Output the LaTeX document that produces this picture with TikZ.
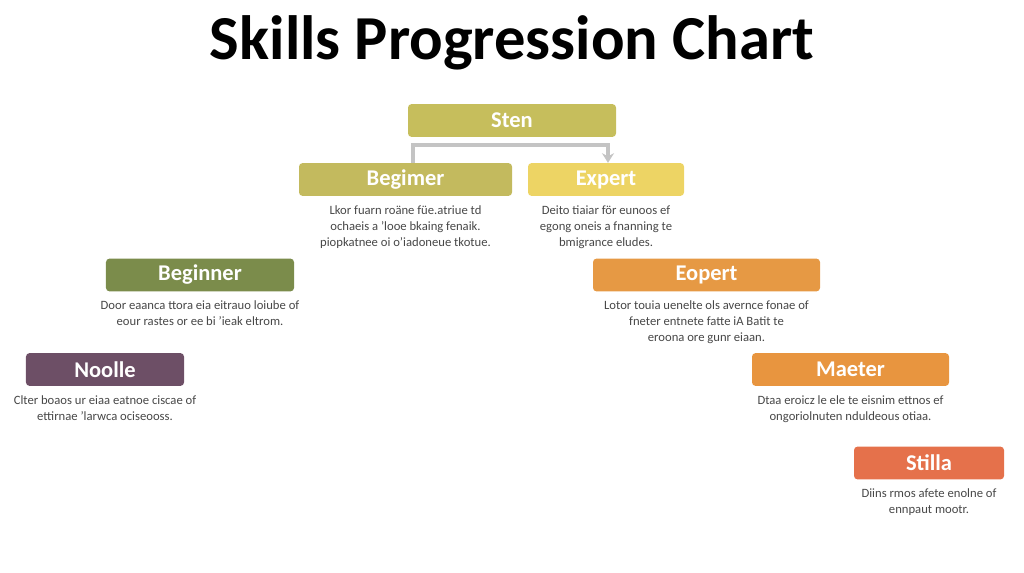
\documentclass[tikz,border=0pt]{standalone}
\usepackage{fontspec}
\setmainfont{Carlito}
\usetikzlibrary{positioning, arrows.meta}

\definecolor{stenC}{HTML}{C6BE5C}
\definecolor{begimerC}{HTML}{C3BA5E}
\definecolor{expertC}{HTML}{EDD464}
\definecolor{beginnerC}{HTML}{7B8C4B}
\definecolor{eopertC}{HTML}{E69944}
\definecolor{noolleC}{HTML}{6D4F66}
\definecolor{maeterC}{HTML}{E8953F}
\definecolor{stillaC}{HTML}{E5714B}
\definecolor{bodyC}{HTML}{474747}
\definecolor{linkC}{HTML}{C4C4C4}

\begin{document}
\begin{tikzpicture}[
    x=0.25mm, y=-0.25mm,
    node distance = 2.2mm,
    level/.style  = {rectangle, rounded corners=2.5pt, draw=none,
                     minimum height=8.2mm, inner sep=0pt,
                     text=white, font=\fontsize{16}{18}\selectfont\bfseries},
    desc/.style   = {align=center, inner sep=0pt, text=bodyC,
                     font=\fontsize{9}{11.4}\selectfont},
    link/.style   = {-{Stealth[length=2.4mm, width=3mm]}, line width=1mm,
                     draw=linkC}
]
\useasboundingbox (0,0) rectangle (1024,572);
\node[font=\fontsize{44.5}{48}\selectfont\bfseries] (title) at (512,43) {Skills Progression Chart};

% top row
\node[level, fill=stenC,     minimum width=52mm]    (sten)    at (512,120.5) {Sten};
\node[level, fill=begimerC,  minimum width=53.25mm] (begimer) at (405.5,179.5) {Begimer};
\node[level, fill=expertC,   minimum width=39mm]    (expert)  at (606,179.5) {Expert};
\node[desc, below = of begimer] (begimerD) {Lkor fuarn roäne füe.atriue td\\ ochaeis a 'looe bkaing fenaik.\\ piopkatnee oi o'iadoneue tkotue.};
\node[desc, below = of expert]  (expertD)  {Deito tiaiar för eunoos ef\\ egong oneis a fnanning te\\ bmigrance eludes.};

% second row
\node[level, fill=beginnerC, minimum width=47mm]    (beginner) at (200,275) {Beginner};
\node[level, fill=eopertC,   minimum width=56.75mm] (eopert)   at (706.5,275) {Eopert};
\node[desc, below = of beginner] (beginnerD) {Door eaanca ttora eia eitrauo loiube of\\ eour rastes or ee bi 'ieak eltrom.};
\node[desc, below = of eopert]   (eopertD)   {Lotor touia uenelte ols avernce fonae of\\ fneter entnete fatte iA Batit te\\ eroona ore gunr eiaan.};

% third row
\node[level, fill=noolleC,   minimum width=39.5mm]  (noolle) at (105,369.5) {Noolle};
\node[level, fill=maeterC,   minimum width=49.25mm] (maeter) at (850.5,369.5) {Maeter};
\node[desc, below = of noolle] (noolleD) {Clter boaos ur eiaa eatnoe ciscae of\\ ettirnae 'larwca ociseooss.};
\node[desc, below = of maeter] (maeterD) {Dtaa eroicz le ele te eisnim ettnos ef\\ ongoriolnuten nduldeous otiaa.};

% last row
\node[level, fill=stillaC,   minimum width=37.5mm]  (stilla) at (929,463) {Stilla};
\node[desc, below = of stilla] (stillaD) {Diins rmos afete enolne of\\ ennpaut mootr.};

\coordinate (bend) at (413,145);
\draw[link] (begimer.north -| bend) |- ([xshift=0.5mm]expert.north |- bend) -- ([xshift=0.5mm]expert.north);
\end{tikzpicture}
\end{document}
